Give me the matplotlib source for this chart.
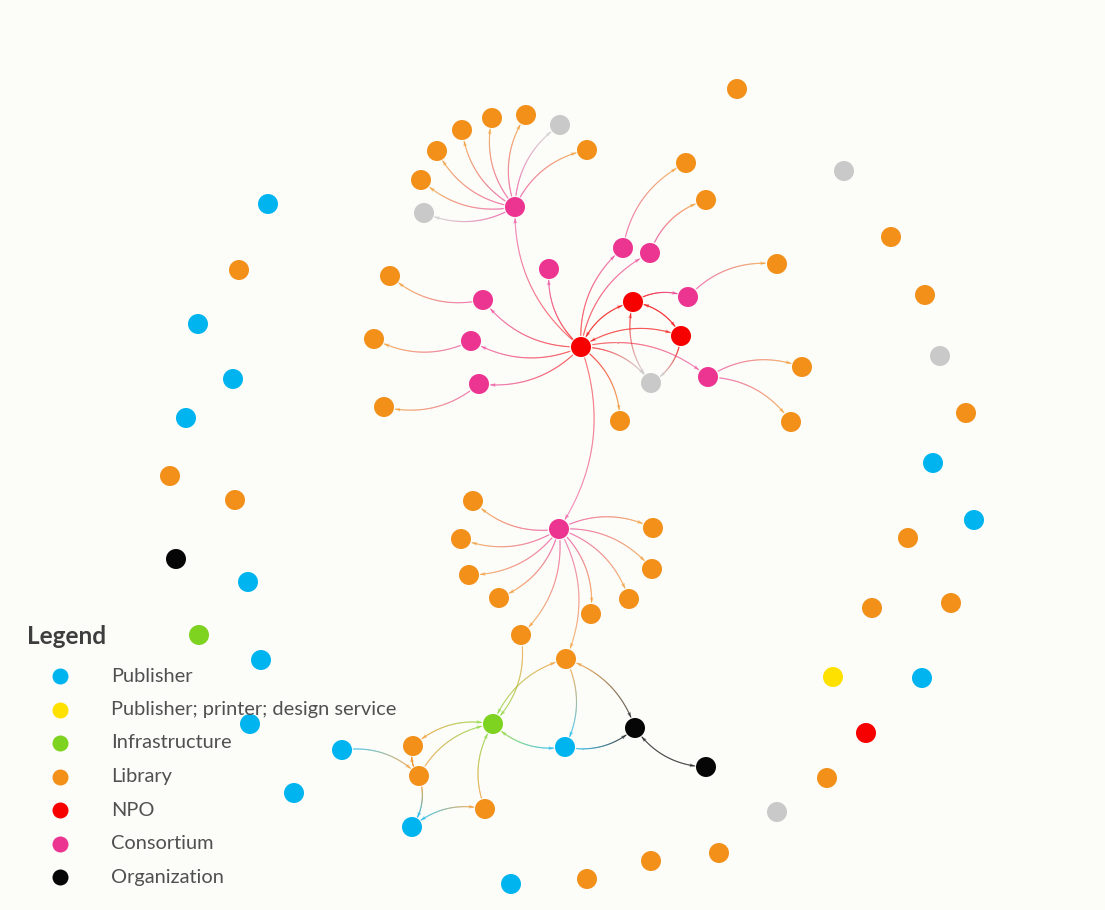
import numpy as np
import matplotlib
matplotlib.use("Agg")
import matplotlib.pyplot as plt
import matplotlib.colors as mc
from matplotlib.collections import LineCollection
from matplotlib.patches import Polygon

# ---------------- data ----------------
categories = ["Publisher", "Publisher; printer; design service", "Infrastructure",
              "Library", "NPO", "Consortium", "Organization"]
category_codes = ["P", "Y", "I", "L", "N", "C", "O"]

# nodes (U = unclassified, grey)
node_id = ["c1", "t1", "t2", "t3", "t4", "t5", "t6", "t7", "t8",
           "n1", "c2", "la", "c3", "c4", "lb", "c5", "lc", "n2", "c6", "ld", "n3", "u1",
           "c7", "le", "lf", "c8", "lg", "c9", "lh", "li",
           "c10", "b1", "b2", "b3", "b4", "b5", "b6", "b7", "b8", "b9", "b10",
           "g1", "o1", "p1", "o2", "p2", "b11", "b12", "b13", "p3",
           "r1", "r2", "r3", "r4", "r5", "r6", "r7", "r8", "r9", "r10", "r11", "r12", "r13",
           "r14", "r15", "r16", "r17", "r18", "r19", "r20", "r21", "r22", "r23", "r24", "r25",
           "r26", "r27", "r28", "r29", "r30", "r31", "r32", "r33"]
node_type = ["C", "L", "L", "L", "L", "L", "U", "L", "U",
             "N", "C", "L", "C", "C", "L", "C", "L", "N", "C", "L", "N", "U",
             "C", "L", "L", "C", "L", "C", "L", "L",
             "C", "L", "L", "L", "L", "L", "L", "L", "L", "L", "L",
             "I", "O", "P", "O", "P", "L", "L", "L", "P",
             "P", "L", "P", "P", "P", "L", "L", "O", "P", "I", "P", "P", "P",
             "P", "L", "L", "L", "U", "L", "N", "Y", "P", "L", "L", "L",
             "P", "P", "L", "U", "L", "L", "U", "L"]
node_x = [515, 421, 437, 462, 492, 526, 560, 587, 424,
          581, 483, 390, 549, 623, 686, 650, 706, 633, 688, 777, 681, 651,
          708, 802, 791, 471, 374, 479, 384, 620,
          559, 473, 653, 461, 652, 469, 499, 629, 591, 521, 566,
          493, 635, 565, 706, 342, 413, 419, 485, 412,
          268, 239, 198, 233, 186, 170, 235, 176, 248, 199, 261, 250, 294,
          511, 587, 651, 719, 777, 827, 866, 833, 922, 872, 951, 908,
          974, 933, 966, 940, 925, 891, 844, 737]
node_y = [207, 180, 151, 130, 118, 115, 125, 150, 213,
          347, 300, 276, 269, 248, 163, 253, 200, 302, 297, 264, 336, 383,
          377, 367, 422, 341, 339, 384, 407, 421,
          529, 501, 528, 539, 569, 575, 598, 599, 614, 635, 659,
          724, 728, 747, 767, 750, 746, 776, 809, 827,
          204, 270, 324, 379, 418, 476, 500, 559, 582, 635, 660, 724, 793,
          884, 879, 861, 853, 812, 778, 733, 677, 678, 608, 603, 538,
          520, 463, 413, 356, 295, 237, 171, 89]

# edges: from, to, arrow placement
edge_from = ["c1", "c1", "c1", "c1", "c1", "c1", "c1", "c1",
             "n1", "n1", "c2", "n1", "n1", "c4", "n1", "c5",
             "n1", "n2", "c6", "n1", "n2", "n1", "u1", "n3",
             "n1", "c7", "c7", "n1", "c8", "n1", "c9", "n1",
             "n1", "c10", "c10", "c10", "c10", "c10", "c10", "c10", "c10", "c10", "c10",
             "b9", "g1", "b11", "b12", "b13", "p1", "b10", "b10", "o1", "o2",
             "p2", "b12", "b12", "p3"]
edge_to = ["t1", "t2", "t3", "t4", "t5", "t6", "t7", "t8",
           "c1", "c2", "la", "c3", "c4", "lb", "c5", "lc",
           "n2", "c6", "ld", "n3", "n3", "u1", "n2", "u1",
           "c7", "le", "lf", "c8", "lg", "c9", "lh", "li",
           "c10", "b1", "b2", "b3", "b4", "b5", "b6", "b7", "b8", "b9", "b10",
           "g1", "b10", "g1", "g1", "g1", "g1", "p1", "o1", "p1", "o1",
           "b12", "b11", "p3", "b13"]
edge_arrow = ["end"] * 8 + ["end"] * 8 + \
             ["both", "end", "end", "both", "both", "end", "both", "end"] + \
             ["end"] * 8 + ["end"] * 11 + \
             ["end", "both", "both", "end", "end", "both", "end", "both", "start", "both",
              "end", "end", "end", "both"]

# ---------------- style ----------------
type_color = {"P": "#00B4F0", "Y": "#FFE100", "I": "#7ED321", "L": "#F2901A",
              "N": "#F70000", "C": "#EC3591", "O": "#060606", "U": "#C9C9C9"}
bg = "#FCFCF9"
node_r = 10.0
curv = 0.25

plt.rcParams["font.family"] = ["Lato", "DejaVu Sans"]
fig = plt.figure(figsize=(11.05, 9.10), dpi=100, facecolor=bg)
ax = fig.add_axes([0, 0, 1, 1])
ax.set_facecolor(bg)
ax.set_xlim(0, 1105)
ax.set_ylim(910, 0)
ax.axis("off")

pos = {n: np.array([x, y], float) for n, x, y in zip(node_id, node_x, node_y)}
typ = dict(zip(node_id, node_type))


def arrow_head(tip, prev, color):
    d = tip - prev
    d = d / np.hypot(*d)
    perp = np.array([-d[1], d[0]])
    L, W = 5.0, 4.0
    base = tip - d * L
    pts = [tip, base + perp * W / 2, base - perp * W / 2]
    ax.add_patch(Polygon(pts, closed=True, facecolor=color, edgecolor="none",
                         alpha=0.45, zorder=2))


for a, b, mode in zip(edge_from, edge_to, edge_arrow):
    p0, p2 = pos[a], pos[b]
    d = p2 - p0
    ctrl = (p0 + p2) / 2 + curv * np.array([d[1], -d[0]])
    t = np.linspace(0, 1, 200)[:, None]
    pts = (1 - t) ** 2 * p0 + 2 * (1 - t) * t * ctrl + t ** 2 * p2
    keep = (np.hypot(*(pts - p0).T) > node_r + 1) & (np.hypot(*(pts - p2).T) > node_r + 1)
    pts = pts[keep]
    if len(pts) < 3:
        continue
    c0 = np.array(mc.to_rgb(type_color[typ[a]]))
    c1 = np.array(mc.to_rgb(type_color[typ[b]]))
    segs = np.stack([pts[:-1], pts[1:]], axis=1)
    f = np.linspace(0, 1, len(segs))[:, None]
    cols = c0 * (1 - f) + c1 * f
    cols = np.hstack([cols, np.full((len(segs), 1), 0.33)])
    ax.add_collection(LineCollection(segs, colors=cols, linewidths=0.85, zorder=1,
                                     capstyle="round"))
    if mode in ("end", "both"):
        arrow_head(pts[-1], pts[-4], type_color[typ[b]])
    if mode in ("start", "both"):
        arrow_head(pts[0], pts[3], type_color[typ[a]])

ax.scatter(node_x, node_y, s=(2 * node_r * 0.72) ** 2,
           c=[type_color[t] for t in node_type], linewidths=0, zorder=3)

# ---------------- legend ----------------
ax.text(27, 637, "Legend", fontsize=17.5, fontweight="bold", color="#3E3E3E",
        va="center", ha="left", zorder=5)
for i, (lab, code) in enumerate(zip(categories, category_codes)):
    y = 676 + i * 33.5
    ax.scatter([60], [y], s=(16 * 0.72) ** 2, c=type_color[code], linewidths=0, zorder=5)
    ax.text(111, y, lab, fontsize=14.4, color="#505050", va="center", ha="left", zorder=5)

fig.savefig("out.png", dpi=100, facecolor=bg)
